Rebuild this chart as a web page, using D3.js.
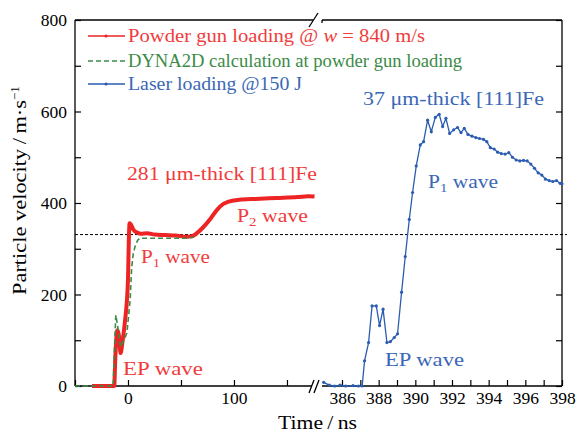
<!DOCTYPE html>
<html>
<head>
<meta charset="utf-8">
<script src="https://cdn.jsdelivr.net/npm/d3@7"></script>
<style>
body { margin: 0; background: #fff; }
svg { display: block; font-family: "Liberation Serif", "DejaVu Serif", serif; }
</style>
</head>
<body>
<svg width="578" height="435"></svg>
<script>
const width = 578, height = 435;
const svg = d3.select("svg");

// powder gun (red) : time ns, velocity m/s
const gunTime = [-34, -13, -12, -10, -8.5, -7, -5, -3, 0, 0.8, 1.5, 3, 5, 8, 12, 18, 25, 35, 45, 55, 60, 65, 71, 78, 84, 90, 95, 105, 120, 140, 160, 170, 176];
const gunVel  = [0, 0, 60, 122, 110, 72, 100, 138, 232, 320, 356, 352, 342, 336, 333, 334, 331, 330, 329, 326, 327, 334, 347, 366, 385, 398, 403, 407, 409, 411, 413, 415, 414];

// DYNA2D (green dashed)
const simTime = [-50, -14, -12.5, -11.5, -9, -7, -4, -1, 2, 3.5, 5, 6.6, 9, 11, 20, 40, 55, 62];
const simVel  = [0, 0, 100, 155, 120, 85, 100, 116, 188, 260, 290, 304, 318, 323, 323, 323, 323, 325];

// laser (blue)
const laserTime = [385.0, 385.3, 385.6, 385.9, 386.2, 386.6, 386.9, 387.1, 387.23, 387.45, 387.64, 387.87, 388.05, 388.24, 388.45, 388.64, 388.85, 389.03, 389.25, 389.45, 389.67, 389.85, 390.05, 390.27, 390.45, 390.67, 390.87, 391.09, 391.3, 391.49, 391.67, 391.87, 392.09, 392.3, 392.49, 392.67, 392.87, 393.09, 393.3, 393.5, 393.72, 393.9, 394.09, 394.3, 394.49, 394.69, 394.9, 395.1, 395.3, 395.5, 395.7, 395.9, 396.1, 396.3, 396.5, 396.7, 396.9, 397.1, 397.3, 397.5, 397.7, 397.9, 398.0];
const laserVel  = [8, 2, 0, 2, 0, 1, 0, 0, 55, 95, 175, 175, 132, 168, 95, 97, 106, 114, 205, 283, 364, 423, 481, 527, 534, 581, 556, 587, 594, 567, 585, 552, 560, 565, 554, 563, 550, 546, 543, 541, 539, 534, 521, 518, 511, 508, 507, 510, 500, 494, 492, 493, 492, 485, 476, 466, 461, 452, 449, 447, 449, 443, 442];

const yMajor = [0, 200, 400, 600, 800];
const yMinor = [100, 300, 500, 700];
const xLeftMajor = [0, 100];
const xLeftMinor = [-50, 50, 150];
const xRightMajor = [386, 388, 390, 392, 394, 396, 398];
const xRightMinor = [387, 389, 391, 393, 395, 397];
const refVel = 331;

const red = "#ee2424", redText = "#f03c3c";
const green = "#3b8b47";
const blue = "#2b5cb0", blueText = "#3a67b6";

const plotL = 75, plotR = 562, plotT = 20, plotB = 386;
const breakL = 313, breakR = 322;

const y = d3.scaleLinear().domain([0, 800]).range([plotB, plotT]);
const xL = d3.scaleLinear().domain([-50, 175.5]).range([plotL, 314]);
const xR = d3.scaleLinear().domain([384.8, 398]).range([320, plotR]);

const g = svg.append("g");

// reference dashed line
g.append("line")
	.attr("x1", plotL).attr("x2", 567)
	.attr("y1", y(refVel)).attr("y2", y(refVel))
	.attr("stroke", "#000").attr("stroke-width", 1)
	.attr("stroke-dasharray", "3,2");

// axes
function styleAxis(sel) {
	sel.attr("font-family", null).attr("font-size", null);
	sel.select(".domain").remove();
	sel.selectAll("line").attr("stroke", "#000").attr("stroke-width", 1.2);
	sel.selectAll("text").attr("font-size", 17.5).attr("fill", "#000");
}

g.append("g").attr("transform", `translate(${plotL},0)`)
	.call(d3.axisLeft(y).tickValues(yMajor).tickSize(-6).tickPadding(8).tickFormat(d3.format("d")))
	.call(styleAxis);
g.append("g").attr("transform", `translate(${plotL},0)`)
	.call(d3.axisLeft(y).tickValues(yMinor).tickSize(-6).tickFormat(""))
	.call(styleAxis);
g.append("g").attr("transform", `translate(${plotR},0)`)
	.call(d3.axisRight(y).tickValues(yMajor.concat(yMinor)).tickSize(-6).tickFormat(""))
	.call(styleAxis);

g.append("g").attr("transform", `translate(0,${plotB})`)
	.call(d3.axisBottom(xL).tickValues(xLeftMajor).tickSize(-6).tickPadding(6))
	.call(styleAxis);
g.append("g").attr("transform", `translate(0,${plotB})`)
	.call(d3.axisBottom(xL).tickValues(xLeftMinor).tickSize(-6).tickFormat(""))
	.call(styleAxis);
g.append("g").attr("transform", `translate(0,${plotB})`)
	.call(d3.axisBottom(xR).tickValues(xRightMajor).tickSize(-6).tickPadding(6))
	.call(styleAxis);
g.append("g").attr("transform", `translate(0,${plotB})`)
	.call(d3.axisBottom(xR).tickValues(xRightMinor).tickSize(-6).tickFormat(""))
	.call(styleAxis);

// frame with break
const frame = [
	[plotL, plotT, plotL, plotB],
	[plotR, plotT, plotR, plotB],
	[plotL, plotT, breakL, plotT],
	[breakR, plotT, plotR, plotT],
	[plotL, plotB, breakL - 1, plotB],
	[breakR, plotB, plotR, plotB],
	[breakR, plotT, breakR, plotT + 3],
	[309, 27, 318, 13],
	[309, 393, 314, 380],
	[314, 393, 319, 380]
];
g.selectAll(".frame").data(frame).enter().append("line")
	.attr("class", "frame")
	.attr("x1", d => d[0]).attr("y1", d => d[1])
	.attr("x2", d => d[2]).attr("y2", d => d[3])
	.attr("stroke", "#000").attr("stroke-width", 1.3);

// series
const gunData = gunTime.map((t, i) => [t, gunVel[i]]);
const simData = simTime.map((t, i) => [t, simVel[i]]);
const laserData = laserTime.map((t, i) => [t, laserVel[i]]);

const lineL = d3.line().x(d => xL(d[0])).y(d => y(d[1])).curve(d3.curveMonotoneX);
const lineR = d3.line().x(d => xR(d[0])).y(d => y(d[1]));

g.append("path").datum(gunData)
	.attr("d", lineL)
	.attr("fill", "none").attr("stroke", red).attr("stroke-width", 4)
	.attr("stroke-linejoin", "round");

g.append("path").datum(simData)
	.attr("d", d3.line().x(d => xL(d[0])).y(d => y(d[1])))
	.attr("fill", "none").attr("stroke", green).attr("stroke-width", 1.6)
	.attr("stroke-dasharray", "5,3");

g.append("path").datum(laserData)
	.attr("d", lineR)
	.attr("fill", "none").attr("stroke", blue).attr("stroke-width", 1.3);
g.selectAll(".ldot").data(laserData).enter().append("circle")
	.attr("class", "ldot")
	.attr("cx", d => xR(d[0])).attr("cy", d => y(d[1]))
	.attr("r", 1.6).attr("fill", blue);

// legend
const legend = [
	{ color: red, dash: null, dot: true, y: 36 },
	{ color: green, dash: "5,3", dot: false, y: 61 },
	{ color: blue, dash: null, dot: true, y: 84 }
];
legend.forEach(d => {
	g.append("line").attr("x1", 88).attr("x2", 125).attr("y1", d.y).attr("y2", d.y)
		.attr("stroke", d.color).attr("stroke-width", 1.4)
		.attr("stroke-dasharray", d.dash);
	if (d.dot) g.append("circle").attr("cx", 106).attr("cy", d.y).attr("r", 1.6).attr("fill", d.color);
});

const fs = 19;
const adj = "spacingAndGlyphs";
const t1 = g.append("text").attr("x", 128).attr("y", 42).attr("font-size", fs).attr("fill", redText)
	.attr("textLength", 297).attr("lengthAdjust", adj);
t1.append("tspan").text("Powder gun loading @ ");
t1.append("tspan").attr("font-style", "italic").text("w");
t1.append("tspan").text(" = 840 m/s");
g.append("text").attr("x", 128).attr("y", 67).attr("font-size", fs).attr("fill", green)
	.attr("textLength", 334).attr("lengthAdjust", adj)
	.text("DYNA2D calculation at powder gun loading");
g.append("text").attr("x", 128).attr("y", 90).attr("font-size", fs).attr("fill", blueText)
	.attr("textLength", 174).attr("lengthAdjust", adj)
	.text("Laser loading @150 J");

// annotations
function label(x, yy, len, color, main, sub, rest) {
	const t = g.append("text").attr("x", x).attr("y", yy).attr("font-size", fs).attr("fill", color)
		.attr("textLength", len).attr("lengthAdjust", adj);
	t.append("tspan").text(main);
	if (sub) {
		t.append("tspan").attr("font-size", 13).attr("dy", 4).text(sub);
		t.append("tspan").attr("dy", -4).text(rest);
	}
	return t;
}
label(127, 180, 190, redText, "281 μm-thick [111]Fe");
label(237, 222, 71, redText, "P", "2", " wave");
label(141, 263, 69, redText, "P", "1", " wave");
label(123, 375, 80, redText, "EP wave");
label(363, 105, 181, blueText, "37 μm-thick [111]Fe");
label(428, 188, 70, blueText, "P", "1", " wave");
label(385, 366, 79, blueText, "EP wave");

// axis titles
g.append("text").attr("x", 278).attr("y", 429)
	.attr("font-size", fs).attr("textLength", 79).attr("lengthAdjust", adj).text("Time\u2009/\u2009ns");
const yt = g.append("text")
	.attr("transform", "translate(26,295) rotate(-90)")
	.attr("font-size", fs);
yt.append("tspan").attr("textLength", 195).attr("lengthAdjust", adj).text("Particle velocity\u2009/\u2009m·s");
yt.append("tspan").attr("font-size", 13).attr("dy", -7).text("−1");
</script>
</body>
</html>
